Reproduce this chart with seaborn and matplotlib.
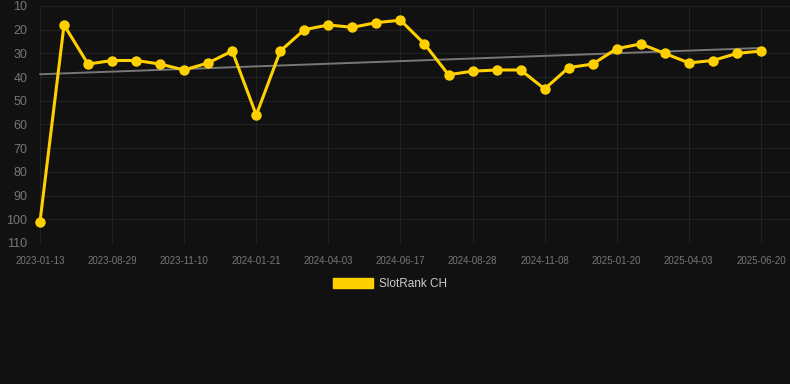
import numpy as np
import pandas as pd
import matplotlib
matplotlib.use("Agg")
import matplotlib.pyplot as plt
import seaborn as sns
from matplotlib.patches import Patch

# SlotRank CH positions, one point every ~3 weeks (labels shown every 3rd point)
ranks = [101, 18, 34.5, 33, 33, 34.5, 37, 34, 29, 56,
         29, 20, 18, 19, 17, 16, 26, 39, 37.5, 37,
         37, 45, 36, 34.5, 28, 26, 30, 34, 33, 30, 29]
tick_labels = ["2023-01-13", "2023-08-29", "2023-11-10", "2024-01-21",
               "2024-04-03", "2024-06-17", "2024-08-28", "2024-11-08",
               "2025-01-20", "2025-04-03", "2025-06-20"]
y_ticks = [10, 20, 30, 40, 50, 60, 70, 80, 90, 100, 110]

bg = "#111111"
gold = "#FFD000"

df = pd.DataFrame({"idx": np.arange(len(ranks)), "rank": ranks})
slope, intercept = np.polyfit(df["idx"], df["rank"], 1)
df["trend"] = intercept + slope * df["idx"]

sns.set_style("dark")
plt.rcParams["font.family"] = ["Liberation Sans", "DejaVu Sans"]
fig = plt.figure(figsize=(7.9, 3.84), dpi=100, facecolor=bg)
ax = fig.add_axes([40 / 790, 1 - 243 / 384, 750 / 790, 237 / 384])
ax.set_facecolor(bg)

sns.lineplot(data=df, x="idx", y="trend", ax=ax, color="#777777", linewidth=1.4)
sns.lineplot(data=df, x="idx", y="rank", ax=ax, color=gold, linewidth=2.2,
             marker="o", markersize=7.5, markeredgewidth=0, zorder=3)
for ln in ax.lines:
    ln.set_clip_on(False)

ax.set_xlim(0, 750 / 24.03)
ax.set_ylim(110, 10)
ax.set_yticks(y_ticks)
ax.set_xticks(df["idx"][::3])
ax.set_xticklabels(tick_labels)
ax.set_xlabel("")
ax.set_ylabel("")

ax.grid(True, color="#222222", linewidth=0.8)
for s in ax.spines.values():
    s.set_visible(False)
ax.tick_params(axis="y", colors="#777777", labelsize=9, length=0, pad=9)
ax.tick_params(axis="x", colors="#777777", labelsize=7, length=5, pad=4)
ax.tick_params(axis="x", color="#222222")

handle = Patch(facecolor=gold, edgecolor=gold)
fig.legend([handle], ["SlotRank CH"], loc="center", bbox_to_anchor=(390 / 790, 1 - 284 / 384),
           frameon=False, fontsize=8.5, labelcolor="#cccccc",
           handlelength=3.4, handleheight=0.95, handletextpad=0.5)

fig.savefig("out.png", dpi=100, facecolor=bg)
